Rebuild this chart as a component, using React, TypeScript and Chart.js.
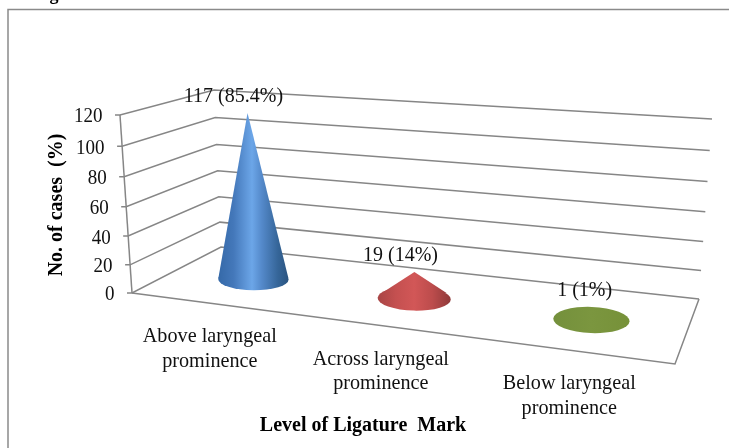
import React, { useEffect, useRef } from "react";
import { Chart, registerables } from "chart.js";

Chart.register(...registerables);

const categories: string[][] = [
  ["Above laryngeal", "prominence"],
  ["Across laryngeal", "prominence"],
  ["Below laryngeal", "prominence"],
];
const caseCounts = [117, 19, 1];
const casePercents = ["85.4%", "14%", "1%"];
const yAxisMax = 120;
const yAxisStep = 20;
const xAxisTitle = "Level of Ligature  Mark";
const yAxisTitle = "No. of cases  (%)";
const croppedCaption = "of Ligature Mark";

type Pt = { x: number; y: number };
const FONT = '"Liberation Serif", "Times New Roman", serif';
const GRID = "#868686";

// corners of the 3D box as seen in the picture
const floorFL = { x: 132, y: 293 };
const floorBL = { x: 221, y: 247 };
const floorBR = { x: 699, y: 299 };
const floorFR = { x: 675, y: 364 };
const upFL = { x: -12, y: -178 };
const upBL = { x: -7, y: -157 };
const upBR = { x: 13, y: -180 };
const upFR = { x: 14, y: -200 };

const bilinear = (u: number, w: number, fl: Pt, bl: Pt, br: Pt, fr: Pt): Pt => {
  const lx = fl.x + (bl.x - fl.x) * w;
  const ly = fl.y + (bl.y - fl.y) * w;
  const rx = fr.x + (br.x - fr.x) * w;
  const ry = fr.y + (br.y - fr.y) * w;
  return { x: lx + (rx - lx) * u, y: ly + (ry - ly) * u };
};
// u across the floor, v up the wall, w into the depth (all 0..1)
const project = (u: number, v: number, w: number): Pt => {
  const f = bilinear(u, w, floorFL, floorBL, floorBR, floorFR);
  const d = bilinear(u, w, upFL, upBL, upBR, upFR);
  const h = v + 0.06 * (v * v - v);
  return { x: f.x + d.x * h, y: f.y + d.y * h };
};
const warpU = (u: number) => u - 0.15 * u * (1 - u) + 0.05 * u * Math.pow(1 - u, 3);

const line = (ctx: CanvasRenderingContext2D, pts: Pt[], close = false) => {
  ctx.beginPath();
  pts.forEach((p, i) => (i ? ctx.lineTo(p.x, p.y) : ctx.moveTo(p.x, p.y)));
  if (close) ctx.closePath();
  ctx.stroke();
};
// text is slightly tall and narrow in the reference
const text = (ctx: CanvasRenderingContext2D, s: string, x: number, y: number, sx = 1, sy = 1.1) => {
  ctx.save();
  ctx.translate(x, y);
  ctx.scale(sx, sy);
  ctx.fillText(s, 0, 0);
  ctx.restore();
};

const conePalette = [
  { stops: [[0, "#3569a8"], [0.22, "#4478ba"], [0.48, "#6ca6e8"], [0.62, "#5489ca"], [0.85, "#356598"], [1, "#2a5480"]] },
  { stops: [[0, "#a84545"], [0.25, "#c45050"], [0.5, "#d25757"], [0.75, "#bc4c4c"], [1, "#8f3a3a"]] },
  { stops: [[0, "#74903c"], [0.5, "#7b963f"], [1, "#769139"]] },
];

const conePlugin = {
  id: "cone3d",
  afterDatasetsDraw(chart: any) {
    const ctx: CanvasRenderingContext2D = chart.ctx;
    const { y: ys } = chart.scales;
    const area = chart.chartArea;
    const toU = (px: number) => (px - area.left) / (area.right - area.left);
    const toV = (py: number) => (area.bottom - py) / (area.bottom - area.top);
    ctx.save();

    // outer frame
    ctx.strokeStyle = "#8a8a8a";
    ctx.lineWidth = 1.5;
    line(ctx, [{ x: 8, y: 448 }, { x: 8, y: 9.5 }, { x: 729, y: 9.5 }]);

    // cropped caption at the very top
    ctx.fillStyle = "#000";
    ctx.textAlign = "left";
    ctx.textBaseline = "alphabetic";
    ctx.font = `bold 18px ${FONT}`;
    ctx.fillText(croppedCaption, 13, 0.3);

    // wall gridlines, tick marks, tick labels
    ctx.strokeStyle = GRID;
    ctx.lineWidth = 1.5;
    ctx.textAlign = "right";
    ctx.textBaseline = "middle";
    ctx.font = `19px ${FONT}`;
    ys.ticks.forEach((t: any) => {
      const v = toV(ys.getPixelForValue(t.value));
      const a = project(0, v, 0);
      line(ctx, [{ x: a.x - 5, y: a.y }, a, project(0, v, 1), project(1, v, 1)]);
      ctx.fillStyle = "#111";
      text(ctx, String(t.value), a.x - 17.5, a.y + 2);
    });
    // axis edge and floor
    line(ctx, [project(0, 0, 0), project(0, 1, 0)]);
    line(ctx, [project(0, 0, 0), project(1, 0, 0), project(1, 0, 1)]);

    // cones, from the chart's bar elements
    const bars = chart.getDatasetMeta(0).data;
    bars.forEach((bar: any, i: number) => {
      const u = warpU(toU(bar.x));
      const base = project(u, 0, 0.5);
      const apex = project(u, toV(bar.y), 0.5);
      const rx = 34.5 + 4.5 * u;
      const ry = 10.5 + 3.2 * u;
      const rot = 0.045 * u;
      const grad = ctx.createLinearGradient(base.x - rx, 0, base.x + rx, 0);
      conePalette[i].stops.forEach(([o, c]) => grad.addColorStop(o as number, c as string));
      ctx.fillStyle = grad;
      ctx.beginPath();
      ctx.ellipse(base.x, base.y, rx, ry, rot, 0, Math.PI * 2);
      ctx.fill();
      const h = base.y - apex.y;
      if (h > ry) {
        const ty = (ry * ry) / h;
        const tx = rx * Math.sqrt(1 - (ry * ry) / (h * h));
        ctx.beginPath();
        ctx.moveTo(apex.x, apex.y);
        ctx.lineTo(base.x - tx, base.y - ty);
        ctx.lineTo(base.x + tx, base.y - ty);
        ctx.closePath();
        ctx.fill();
      }
      // data label
      const topY = Math.min(apex.y, base.y - ry);
      ctx.fillStyle = "#111";
      ctx.textAlign = "center";
      ctx.textBaseline = "middle";
      ctx.font = `20px ${FONT}`;
      text(ctx, `${caseCounts[i]} (${casePercents[i]})`, base.x - 23 + 20 * u, topY - 17);

      // category label
      const front = project(u, 0, 0);
      categories[i].forEach((s, k) => {
        text(ctx, s, front.x - 4, front.y + 33 + k * 24.5, 1.01);
      });
    });

    // axis titles
    ctx.fillStyle = "#000";
    ctx.font = `bold 20px ${FONT}`;
    text(ctx, xAxisTitle, 363, 425.5);
    ctx.save();
    ctx.translate(56, 205);
    ctx.rotate(-Math.PI / 2);
    text(ctx, yAxisTitle, 0, 0);
    ctx.restore();
    ctx.restore();
  },
};

export default function App() {
  const ref = useRef<HTMLCanvasElement | null>(null);
  useEffect(() => {
    const chart = new Chart(ref.current as HTMLCanvasElement, {
      type: "bar",
      data: {
        labels: categories,
        datasets: [{ data: caseCounts, backgroundColor: "rgba(0,0,0,0)", borderWidth: 0 }],
      },
      options: {
        responsive: false,
        animation: false,
        layout: { padding: 0 },
        plugins: { legend: { display: false }, tooltip: { enabled: false } },
        scales: {
          x: { display: false },
          y: { display: false, min: 0, max: yAxisMax, ticks: { stepSize: yAxisStep } },
        },
      },
      plugins: [conePlugin],
    } as any);
    return () => chart.destroy();
  }, []);
  return (
    <div style={{ position: "absolute", left: 0, top: 0, width: 729, height: 448, background: "#fff" }}>
      <canvas ref={ref} width={729} height={448} style={{ display: "block" }} />
    </div>
  );
}
